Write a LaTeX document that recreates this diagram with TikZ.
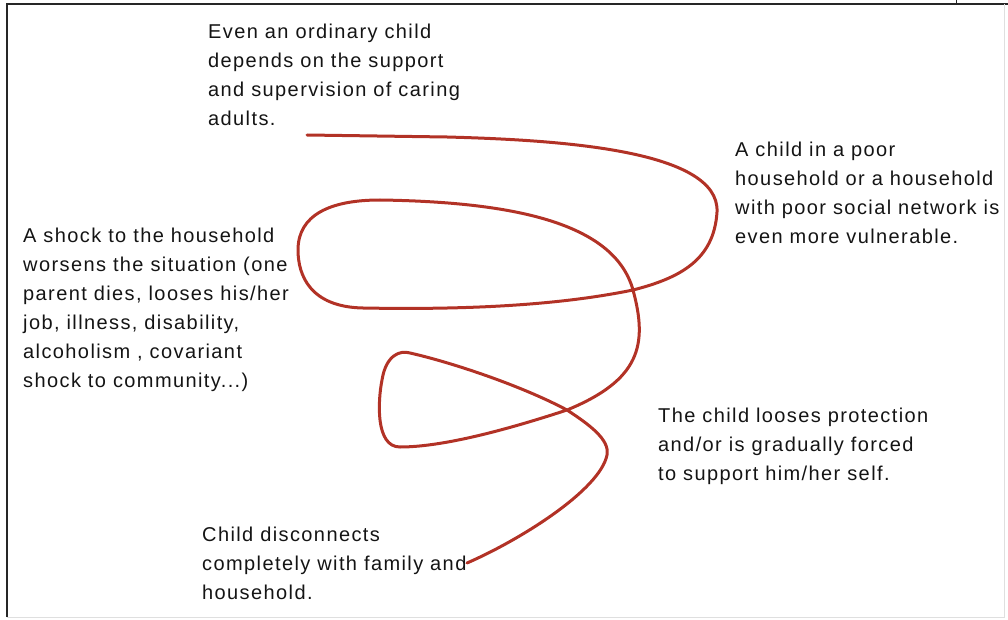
\documentclass[tikz,border=0pt]{standalone}
\usepackage{fontspec}
\newfontfamily\notefont{Liberation Sans}[LetterSpace=7]
\definecolor{scribble}{RGB}{178,50,38}
\definecolor{notegray}{RGB}{20,20,20}

\begin{document}
\begin{tikzpicture}[x=1pt,y=-1pt,
  note/.style={anchor=north west,inner sep=0pt,align=left,text=notegray,
    font=\notefont\fontsize{20}{29}\selectfont},
  loopline/.style={draw=scribble,line width=3pt,line cap=round,line join=round}]
\useasboundingbox (0,0) rectangle (1008,620);

% frame
\draw[line width=2pt,black!85] (7,617) -- (7,4) -- (1008,4);
\draw[line width=1pt,gray!25] (7,617) -- (1004,617) -- (1004,4);
\draw[line width=1pt,black!85] (956,0) -- (956,4);

% the scribble
\draw[loopline] (307,135) -- (447,137)
  .. controls (560,140) and (720,150) .. (717,212)
  .. controls (714,260) and (680,278) .. (633,290)
  .. controls (560,305) and (470,310) .. (363,308)
  .. controls (310,307) and (298,275) .. (298,250)
  .. controls (298,215) and (330,200) .. (380,200)
  .. controls (520,202) and (615,225) .. (633,290)
  .. controls (648,345) and (640,380) .. (567,410)
  .. controls (500,432) and (440,447) .. (400,447)
  .. controls (375,447) and (378,400) .. (382,380)
  .. controls (386,355) and (400,350) .. (410,353)
  .. controls (450,362) and (520,385) .. (567,410)
  .. controls (590,425) and (610,440) .. (607,455)
  .. controls (600,490) and (520,540) .. (467,563);

\node[note] (ordinary) at (208,23.5) {Even an ordinary child\\depends on the support\\and supervision of caring\\adults.};
\node[note] (poor) at (735,142) {A child in a poor\\household or a household\\with poor social network is\\even more vulnerable.};
\node[note] (shock) at (23,228) {A shock to the household\\worsens the situation (one\\parent dies, looses his/her\\job, illness, disability,\\alcoholism , covariant\\shock to community...)};
\node[note] (protect) at (658,408) {The child looses protection\\and/or is gradually forced\\to support him/her self.};
\node[note] (disconnect) at (202,527) {Child disconnects\\completely with family and\\household.};
\end{tikzpicture}
\end{document}
